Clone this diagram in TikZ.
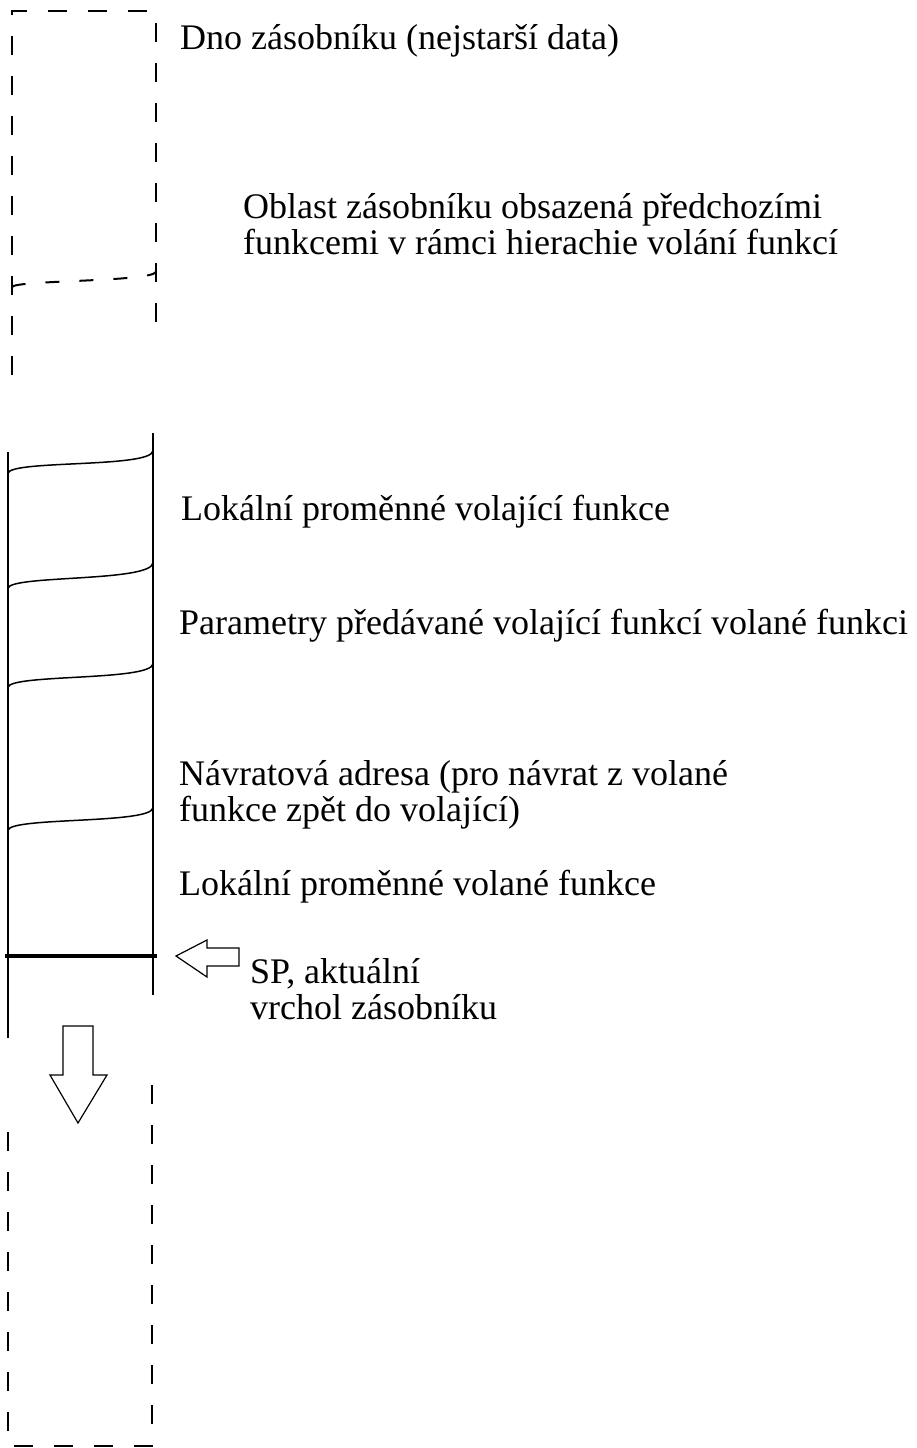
\documentclass[tikz,border=0pt]{standalone}
\usepackage{fontspec}
\setmainfont{Liberation Serif}
\tikzset{
  lbl/.style={anchor=base west, inner sep=0pt, font=\fontsize{36}{36}\selectfont, align=left},
  solidln/.style={line width=1.5pt, black},
  dashln/.style={line width=2pt, black, dash pattern=on 19pt off 21pt},
  hollowarrow/.style={line width=1.2pt, black, fill=white, line join=miter}
}
\begin{document}
\begin{tikzpicture}[x=1pt, y=-1pt]
\useasboundingbox (0,0) rectangle (917,1448);
\fill[white] (0,0) rectangle (917,1448);

% top dashed area (older frames)
\draw[dashln] (12,375) -- (12,11) -- (156,11) -- (156,325);
\draw[dashln, dash pattern=on 14pt off 20pt] (12,287) .. controls (16,280) and (150,282) .. (156,272);

% current frames
\draw[solidln] (8,452) -- (8,1038);
\draw[solidln] (153,433) -- (153,995);
\draw[solidln] (8,473) .. controls (12,460) and (150,468) .. (153,451);
\draw[solidln] (8,588) .. controls (12,575) and (150,582) .. (153,563);
\draw[solidln] (8,687) .. controls (12,674) and (150,681) .. (153,664);
\draw[solidln] (8,830) .. controls (12,817) and (150,824) .. (153,808);
\draw[line width=4.5pt] (5,956) -- (157,956);

% bottom dashed area (free space)
\draw[dashln] (8,1132) -- (8,1446) -- (152,1446) -- (152,1082);

% SP arrow
\draw[hollowarrow] (176,956) -- (207,940) -- (207,948) -- (239,948) -- (239,966) -- (207,966) -- (207,977) -- cycle;
% growth arrow
\draw[hollowarrow] (63,1026) -- (93,1026) -- (93,1075) -- (107,1075) -- (78,1123) -- (50,1075) -- (63,1075) -- cycle;

% labels (base anchor of a multi-line node is the last line's baseline)
\node[lbl] (dno) at (180,49) {Dno zásobníku (nejstarší data)};
\node[lbl] (oblast) at (243,254) {Oblast zásobníku obsazená předchozími\\funkcemi v rámci hierachie volání funkcí};
\node[lbl] (lokvolajici) at (181,520) {Lokální proměnné volající funkce};
\node[lbl] (parametry) at (179,634) {Parametry předávané volající funkcí volané funkci};
\node[lbl] (navrat) at (179,821) {Návratová adresa (pro návrat z volané\\funkce zpět do volající)};
\node[lbl] (lokvolane) at (179,895) {Lokální proměnné volané funkce};
\node[lbl] (sp) at (250,1019) {SP, aktuální\\vrchol zásobníku};
\end{tikzpicture}
\end{document}
